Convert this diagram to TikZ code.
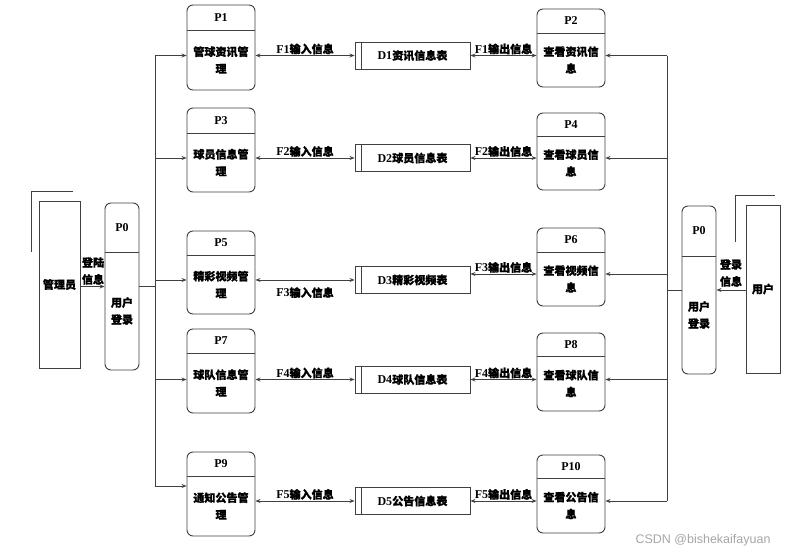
\documentclass[tikz,border=0pt]{standalone}
\usepackage{fontspec}
\setmainfont{Liberation Serif}
\newfontfamily\cjk{Noto Sans CJK SC}[FakeBold=1,Scale=0.92]
\newfontfamily\wmfont{Liberation Sans}
\usetikzlibrary{arrows.meta,calc}
\newcommand\zh[1]{{\cjk #1}}
% name, cx, top, bottom, divider, width, header, body
\newcommand\procbox[8]{%
  \node[pbox, minimum width=#6pt, minimum height={(#4-#3)*1pt}] (#1) at (#2,{(#3+#4)/2}) {};
  \draw[wire] (#1.west |- 0,#5) -- (#1.east |- 0,#5);
  \node[txt] (#1h) at (#2,{(#3+#5)/2}) {#7};
  \node[txt] (#1b) at (#2,{(#5+#4)/2}) {#8};
}
\newcommand\dstore[3]{%
  \node[store] (#1) at (412.5,#2) {#3};
  \draw[wire] ($(#1.north west)+(7,0)$) -- ($(#1.south west)+(7,0)$);
}
\tikzset{
  pbox/.style={draw=black!75, line width=0.9pt, rounded corners=6pt, inner sep=0pt},
  store/.style={draw=black!75, line width=0.9pt, minimum width=115pt, minimum height=27pt, inner sep=0pt, font=\bfseries\fontsize{12}{14}\selectfont},
  txt/.style={font=\bfseries\fontsize{12}{17}\selectfont, align=center, inner sep=0pt},
  lab/.style={font=\bfseries\fontsize{12}{14}\selectfont, inner sep=0.8pt},
  wire/.style={line width=0.9pt, draw=black!75},
  both/.style={wire, {Stealth[length=5pt,width=4pt]}-{Stealth[length=5pt,width=4pt]}},
  arr/.style={wire, -{Stealth[length=5pt,width=4pt]}},
}
\begin{document}
\begin{tikzpicture}[x=1pt,y=-1pt]
\fill[white] (0,0) rectangle (788,554);
\useasboundingbox (0,0) rectangle (788,554);

% left processes
\procbox{P1}{221}{5}{90}{30}{68}{P1}{\zh{管球资讯管}\\\zh{理}}
\procbox{P3}{221}{108}{192}{133}{68}{P3}{\zh{球员信息管}\\\zh{理}}
\procbox{P5}{221}{231}{314}{255}{68}{P5}{\zh{精彩视频管}\\\zh{理}}
\procbox{P7}{221}{329}{413}{353}{68}{P7}{\zh{球队信息管}\\\zh{理}}
\procbox{P9}{221}{452}{536}{476}{68}{P9}{\zh{通知公告管}\\\zh{理}}
% right processes
\procbox{P2}{571}{9}{87}{33}{68}{P2}{\zh{查看资讯信}\\\zh{息}}
\procbox{P4}{571}{113}{190}{136}{68}{P4}{\zh{查看球员信}\\\zh{息}}
\procbox{P6}{571}{228}{306}{252}{68}{P6}{\zh{查看视频信}\\\zh{息}}
\procbox{P8}{571}{333}{411}{356}{68}{P8}{\zh{查看球队信}\\\zh{息}}
\procbox{P10}{571}{455}{533}{478}{68}{P10}{\zh{查看公告信}\\\zh{息}}
% login processes
\procbox{P0L}{122}{203}{370}{252}{34}{P0}{\zh{用户}\\\zh{登录}}
\procbox{P0R}{699}{206}{374}{256}{34}{P0}{\zh{用户}\\\zh{登录}}

% data stores
\dstore{D1}{55.5}{D1\zh{资讯信息表}}
\dstore{D2}{158}{D2\zh{球员信息表}}
\dstore{D3}{280}{D3\zh{精彩视频表}}
\dstore{D4}{379.5}{D4\zh{球队信息表}}
\dstore{D5}{501}{D5\zh{公告信息表}}

% external entities
\node[draw=black!75, line width=0.9pt, minimum width=41pt, minimum height=167pt, inner sep=0pt, txt] (ADM) at (59.5,284.5) {\zh{管理员}};
\draw[wire] ($(ADM.north west)+(34,-9)$) -| ($(ADM.north west)+(-7,51)$);
\node[draw=black!75, line width=0.9pt, minimum width=34pt, minimum height=168pt, inner sep=0pt, txt] (USR) at (763,289) {\zh{用户}};
\draw[wire] ($(USR.north west)+(29,-9)$) -| ($(USR.north west)+(-10,37)$);

\draw[arr] (ADM.east |- P0L.east) -- (P0L.west |- P0L.east);
\node[txt] (admlab) at (93,271) {\zh{登陆}\\\zh{信息}};
\draw[arr] (USR.west |- P0R.east) -- (P0R.east);
\node[txt] (usrlab) at (731,273) {\zh{登录}\\\zh{信息}};

% left bus
\coordinate (LB) at (155,0);
\coordinate (p9in) at ($(P9.west)+(0,-8)$);
\draw[wire] (LB |- D1.west) -- (LB |- p9in);
\draw[wire] (P0L.east) -- (P0L.east -| LB);
\draw[arr] (LB |- D1.west) -- (P1.west |- D1.west);
\draw[arr] (LB |- D2.west) -- (P3.west |- D2.west);
\draw[arr] (LB |- D3.west) -- (P5.west |- D3.west);
\draw[arr] (LB |- D4.west) -- (P7.west |- D4.west);
\draw[arr] (LB |- p9in) -- (p9in);

% right bus
\coordinate (RB) at (667,0);
\coordinate (d3r) at ($(D3.east)+(0,-6)$);
\draw[wire] (RB |- D1.east) -- (RB |- D5.east);
\draw[wire] (P0R.west) -- (P0R.west -| RB);
\draw[arr] (RB |- D1.east) -- (P2.east |- D1.east);
\draw[arr] (RB |- D2.east) -- (P4.east |- D2.east);
\draw[arr] (RB |- d3r) -- (P6.east |- d3r);
\draw[arr] (RB |- D4.east) -- (P8.east |- D4.east);
\draw[arr] (RB |- D5.east) -- (P10.east |- D5.east);

% input flows
\draw[both] (P1.east |- D1.west) -- node[lab, above] (f1i) {F1\zh{输入信息}} (D1.west);
\draw[both] (P3.east |- D2.west) -- node[lab, above] (f2i) {F2\zh{输入信息}} (D2.west);
\draw[both] (P5.east |- D3.west) -- node[lab, below=6pt] (f3i) {F3\zh{输入信息}} (D3.west);
\draw[both] (P7.east |- D4.west) -- node[lab, above] (f4i) {F4\zh{输入信息}} (D4.west);
\draw[both] (P9.east |- D5.west) -- node[lab, above] (f5i) {F5\zh{输入信息}} (D5.west);
% output flows
\draw[both] (D1.east) -- node[lab, above] (f1o) {F1\zh{输出信息}} (P2.west |- D1.east);
\draw[both] (D2.east) -- node[lab, above] (f2o) {F2\zh{输出信息}} (P4.west |- D2.east);
\draw[both] (d3r) -- node[lab, above] (f3o) {F3\zh{输出信息}} (P6.west |- d3r);
\draw[both] (D4.east) -- node[lab, above] (f4o) {F4\zh{输出信息}} (P8.west |- D4.east);
\draw[both] (D5.east) -- node[lab, above] (f5o) {F5\zh{输出信息}} (P10.west |- D5.east);

\node[font=\wmfont\fontsize{12.5}{14}\selectfont, text=black!35, inner sep=0pt] (wm) at (703,540) {CSDN @bishekaifayuan};
\end{tikzpicture}
\end{document}
